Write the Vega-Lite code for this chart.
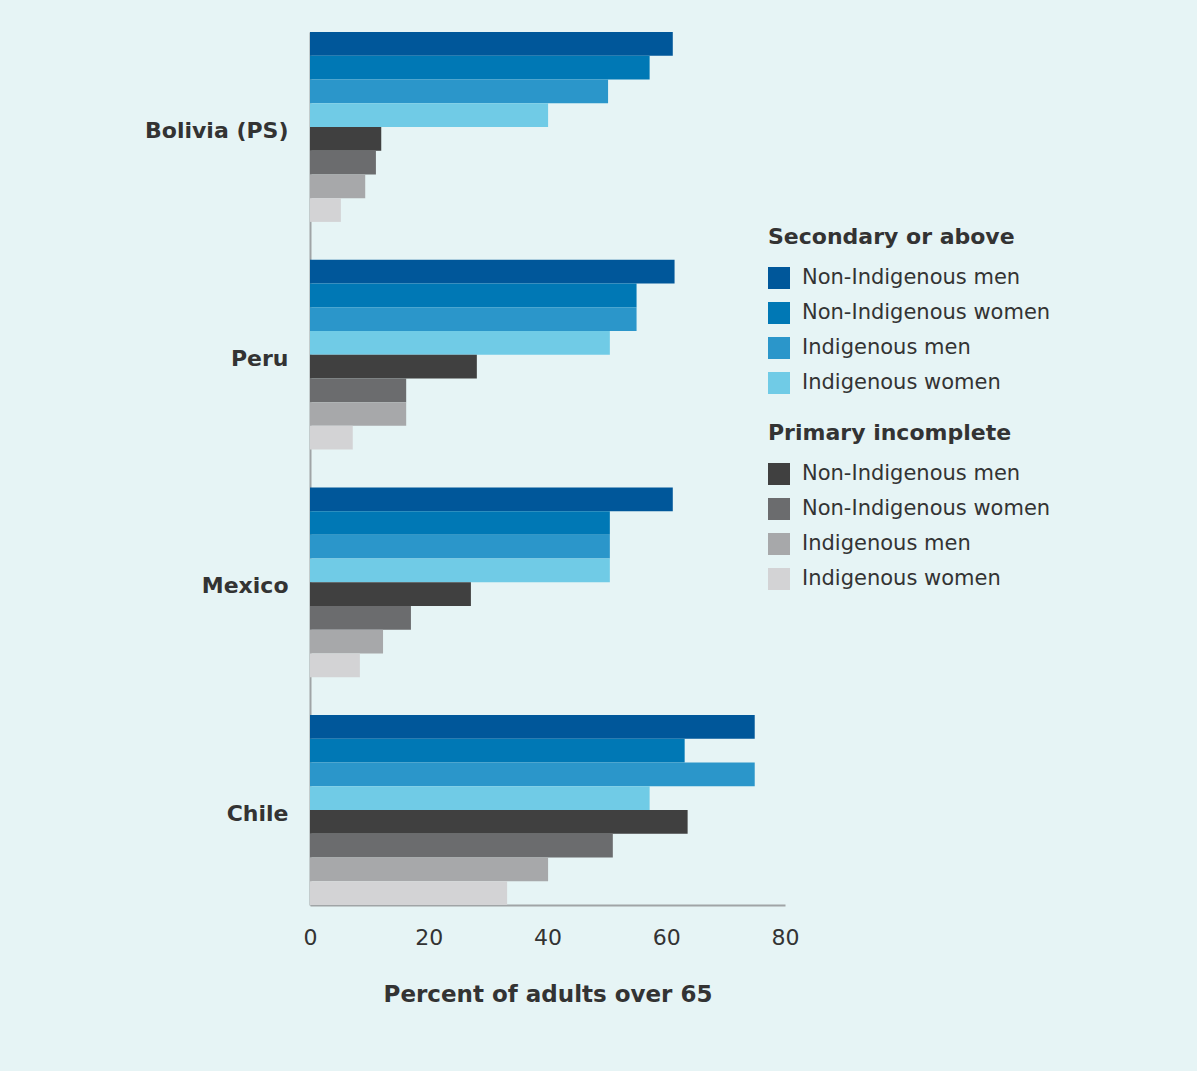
{
  "$schema": "https://vega.github.io/schema/vega-lite/v6.json",
  "width": 475,
  "height": 873,
  "autosize": {"type": "none"},
  "padding": {"left": 310, "top": 32, "right": 412, "bottom": 166},
  "background": "#e6f4f5",
  "config": {
    "view": {"stroke": null},
    "font": "DejaVu Sans",
    "axis": {"grid": false, "ticks": false, "domainColor": "#a0a4a6", "domainWidth": 2, "labelColor": "#333333", "titleColor": "#333333"},
    "legend": {"titleColor": "#333333", "labelColor": "#333333", "labelLimit": 0, "titleLimit": 0}
  },
  "data": {"values": [
    {"country": "Bolivia (PS)", "group": "Secondary or above", "key": "S1", "label": "Non-Indigenous men", "value": 61.1},
    {"country": "Bolivia (PS)", "group": "Secondary or above", "key": "S2", "label": "Non-Indigenous women", "value": 57.2},
    {"country": "Bolivia (PS)", "group": "Secondary or above", "key": "S3", "label": "Indigenous men", "value": 50.2},
    {"country": "Bolivia (PS)", "group": "Secondary or above", "key": "S4", "label": "Indigenous women", "value": 40.1},
    {"country": "Bolivia (PS)", "group": "Primary incomplete", "key": "P1", "label": "Non-Indigenous men", "value": 12.0},
    {"country": "Bolivia (PS)", "group": "Primary incomplete", "key": "P2", "label": "Non-Indigenous women", "value": 11.1},
    {"country": "Bolivia (PS)", "group": "Primary incomplete", "key": "P3", "label": "Indigenous men", "value": 9.3},
    {"country": "Bolivia (PS)", "group": "Primary incomplete", "key": "P4", "label": "Indigenous women", "value": 5.2},
    {"country": "Peru", "group": "Secondary or above", "key": "S1", "label": "Non-Indigenous men", "value": 61.4},
    {"country": "Peru", "group": "Secondary or above", "key": "S2", "label": "Non-Indigenous women", "value": 55.0},
    {"country": "Peru", "group": "Secondary or above", "key": "S3", "label": "Indigenous men", "value": 55.0},
    {"country": "Peru", "group": "Secondary or above", "key": "S4", "label": "Indigenous women", "value": 50.5},
    {"country": "Peru", "group": "Primary incomplete", "key": "P1", "label": "Non-Indigenous men", "value": 28.1},
    {"country": "Peru", "group": "Primary incomplete", "key": "P2", "label": "Non-Indigenous women", "value": 16.2},
    {"country": "Peru", "group": "Primary incomplete", "key": "P3", "label": "Indigenous men", "value": 16.2},
    {"country": "Peru", "group": "Primary incomplete", "key": "P4", "label": "Indigenous women", "value": 7.2},
    {"country": "Mexico", "group": "Secondary or above", "key": "S1", "label": "Non-Indigenous men", "value": 61.1},
    {"country": "Mexico", "group": "Secondary or above", "key": "S2", "label": "Non-Indigenous women", "value": 50.5},
    {"country": "Mexico", "group": "Secondary or above", "key": "S3", "label": "Indigenous men", "value": 50.5},
    {"country": "Mexico", "group": "Secondary or above", "key": "S4", "label": "Indigenous women", "value": 50.5},
    {"country": "Mexico", "group": "Primary incomplete", "key": "P1", "label": "Non-Indigenous men", "value": 27.1},
    {"country": "Mexico", "group": "Primary incomplete", "key": "P2", "label": "Non-Indigenous women", "value": 17.0},
    {"country": "Mexico", "group": "Primary incomplete", "key": "P3", "label": "Indigenous men", "value": 12.3},
    {"country": "Mexico", "group": "Primary incomplete", "key": "P4", "label": "Indigenous women", "value": 8.4},
    {"country": "Chile", "group": "Secondary or above", "key": "S1", "label": "Non-Indigenous men", "value": 74.9},
    {"country": "Chile", "group": "Secondary or above", "key": "S2", "label": "Non-Indigenous women", "value": 63.1},
    {"country": "Chile", "group": "Secondary or above", "key": "S3", "label": "Indigenous men", "value": 74.9},
    {"country": "Chile", "group": "Secondary or above", "key": "S4", "label": "Indigenous women", "value": 57.2},
    {"country": "Chile", "group": "Primary incomplete", "key": "P1", "label": "Non-Indigenous men", "value": 63.6},
    {"country": "Chile", "group": "Primary incomplete", "key": "P2", "label": "Non-Indigenous women", "value": 51.0},
    {"country": "Chile", "group": "Primary incomplete", "key": "P3", "label": "Indigenous men", "value": 40.1},
    {"country": "Chile", "group": "Primary incomplete", "key": "P4", "label": "Indigenous women", "value": 33.2}
  ]},
  "encoding": {
    "x": {"field": "value", "type": "quantitative", "scale": {"domain": [0, 80], "nice": false}, "axis": {"values": [0, 20, 40, 60, 80], "title": "Percent of adults over 65", "labelFlush": false, "labelFontSize": 22, "labelPadding": 22, "titleFontSize": 23, "titleFontWeight": "bold", "titlePadding": 35}},
    "y": {"field": "country", "type": "nominal", "sort": ["Bolivia (PS)", "Peru", "Mexico", "Chile"], "scale": {"paddingInner": 0.166, "paddingOuter": 0}, "axis": {"title": null, "labelFontSize": 22, "labelFontWeight": "bold", "labelPadding": 22, "labelLimit": 0, "labelOffset": 4}},
    "yOffset": {"field": "key", "type": "nominal", "sort": ["S1", "S2", "S3", "S4", "P1", "P2", "P3", "P4"], "scale": {"paddingInner": 0, "paddingOuter": 0}}
  },
  "layer": [
    {
      "transform": [{"filter": "datum.group === 'Secondary or above'"}],
      "mark": {"type": "bar"},
      "encoding": {
        "color": {"field": "label", "type": "nominal", "sort": ["Non-Indigenous men", "Non-Indigenous women", "Indigenous men", "Indigenous women"],
          "scale": {"domain": ["Non-Indigenous men", "Non-Indigenous women", "Indigenous men", "Indigenous women"], "range": ["#00579a", "#0078b5", "#2b96ca", "#70cbe6"]},
          "legend": {"title": "Secondary or above", "orient": "none", "legendX": 458, "legendY": 195, "symbolType": "square", "symbolSize": 484, "symbolStrokeWidth": 0, "symbolOpacity": 1, "labelFontSize": 21, "titleFontSize": 22, "titleFontWeight": "bold", "rowPadding": 13, "titlePadding": 18, "labelOffset": 12}}
      }
    },
    {
      "transform": [{"filter": "datum.group === 'Primary incomplete'"}],
      "mark": {"type": "bar"},
      "encoding": {
        "color": {"field": "label", "type": "nominal", "sort": ["Non-Indigenous men", "Non-Indigenous women", "Indigenous men", "Indigenous women"],
          "scale": {"domain": ["Non-Indigenous men", "Non-Indigenous women", "Indigenous men", "Indigenous women"], "range": ["#404040", "#6b6c6e", "#a7a8aa", "#d3d3d5"]},
          "legend": {"title": "Primary incomplete", "orient": "none", "legendX": 458, "legendY": 391, "symbolType": "square", "symbolSize": 484, "symbolStrokeWidth": 0, "symbolOpacity": 1, "labelFontSize": 21, "titleFontSize": 22, "titleFontWeight": "bold", "rowPadding": 13, "titlePadding": 18, "labelOffset": 12}}
      }
    }
  ],
  "resolve": {"scale": {"color": "independent"}}
}
